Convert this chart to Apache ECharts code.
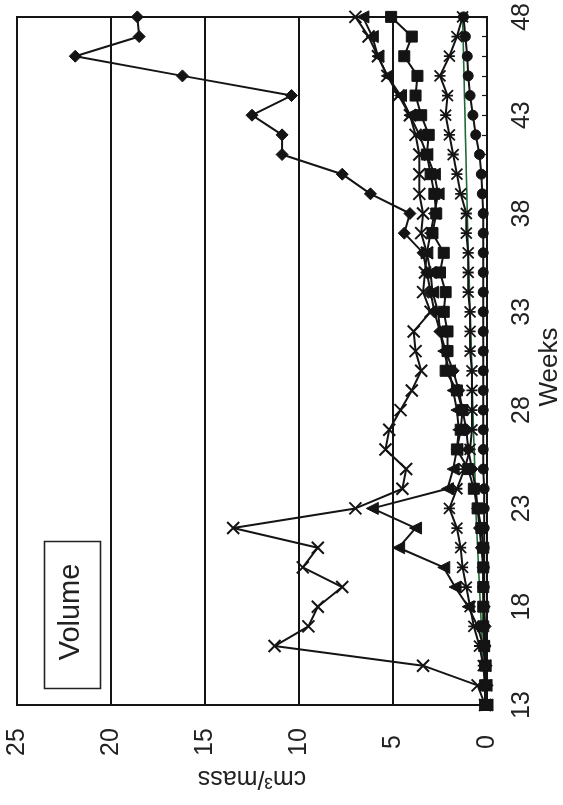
<!DOCTYPE html>
<html>
<head>
<meta charset="utf-8">
<script src="https://cdn.jsdelivr.net/npm/echarts@6/dist/echarts.min.js"></script>
<style>
html,body{margin:0;padding:0;background:#fff;}
#chart{width:563px;height:805px;}
</style>
</head>
<body>
<div id="chart"></div>
<script>
// Weeks (categories along the vertical axis)
const weeks = [13,14,15,16,17,18,19,20,21,22,23,24,25,26,27,28,29,30,31,32,33,34,35,36,37,38,39,40,41,42,43,44,45,46,47,48];
const weekTickLabels = [13,18,23,28,33,38,43,48];
const valueTickLabels = [0,5,10,15,20,25];

// Series values, cm3/mass, one per week
const diamondVals = [0,0,0.05,0.1,0.1,0.15,0.2,0.2,0.3,0.4,0.5,0.6, 0.8,1.0,1.1,1.3,1.5,1.8,2.2,2.5,2.8,3.0,3.2,3.4, 4.4,4.1,6.2,7.7,10.9,10.9,12.5,10.4,16.2,21.9,18.5,18.6];
const squareVals  = [0.1,0.1,0.1,0.15,0.2,0.2,0.2,0.2,0.2,0.3,0.5,0.7, 1.0,1.6,1.4,1.3,1.6,2.2,2.1,2.1,2.3,2.2,2.5,2.3, 2.9,2.7,2.8,3.0,3.2,3.1,3.5,3.8,3.7,4.4,4.0,5.1];
const triangleVals= [0,0.05,0.1,0.2,0.5,1.0,1.7,2.3,4.7,3.8,6.1,2.1, 1.8,1.6,1.5,1.6,1.8,2.0,2.3,2.5,2.6,2.9,3.0,3.2, 3.0,2.8,2.6,2.8,3.2,3.6,4.1,4.6,5.3,5.8,6.1,6.6];
const crossVals   = [0.1,0.5,3.4,11.3,9.5,9.0,7.7,9.8,9.0,13.5,7.0,4.5, 4.3,5.4,5.2,4.6,4.0,3.5,3.8,3.9,3.0,3.4,3.3,3.2, 3.5,3.4,3.6,3.6,3.6,3.8,4.1,4.7,5.3,5.8,6.3,7.0];
const starVals    = [0,0.1,0.2,0.4,0.7,0.9,1.1,1.3,1.4,1.6,2.0,1.6, 1.2,0.9,0.8,0.8,0.8,0.8,0.9,0.9,0.9,1.0,1.0,1.0, 1.1,1.1,1.4,1.6,1.8,2.0,2.2,2.1,2.5,2.0,1.6,1.3];
const circleVals  = [0.1,0.1,0.1,0.1,0.15,0.15,0.15,0.15,0.15,0.15,0.15,0.15, 0.2,0.2,0.2,0.2,0.2,0.2,0.2,0.2,0.2,0.2,0.2,0.2, 0.2,0.2,0.25,0.3,0.4,0.6,0.75,0.9,1.0,1.05,1.15,1.25];
const greenVals   = [0.05,0.1,0.2,0.25,0.3,0.35,0.4,0.45,0.5,0.55,0.6,0.62, 0.65,0.68,0.72,0.75,0.78,0.8,0.83,0.86,0.9,0.93,0.96,1.0, 1.02,1.05,1.07,1.1,1.12,1.15,1.17,1.2,1.22,1.25,1.27,1.3];

const INK = '#141414';
const FONT = 'Liberation Sans, Arial, sans-serif';

function pairs(vals){ return vals.map((v,i)=>[v, weeks[i]]); }

function lineSeries(name, vals, symbol, size, extra){
  return Object.assign({
    name: name,
    type: 'line',
    data: pairs(vals),
    symbol: symbol,
    symbolSize: size,
    showAllSymbol: true,
    lineStyle: {color: INK, width: 2},
    itemStyle: {color: INK, borderColor: INK, borderWidth: 1},
    emphasis: {disabled: true},
    animation: false
  }, extra || {});
}

const crossPath = 'path://M0,0L10,10M10,0L0,10';
const starPath = 'path://M0,0L10,10M10,0L0,10M0,5L10,5';

const chart = echarts.init(document.getElementById('chart'), null, {renderer: 'canvas'});
chart.setOption({
  backgroundColor: '#ffffff',
  animation: false,
  grid: {left: 17, right: 76, top: 8, bottom: 100, show: true, borderColor: INK, borderWidth: 2, backgroundColor: 'transparent'},
  xAxis: {
    type: 'value', inverse: true, min: 0, max: 25, interval: 5,
    axisLine: {show: true, lineStyle: {color: INK, width: 2}},
    axisTick: {show: false},
    splitLine: {show: true, lineStyle: {color: INK, width: 2}},
    axisLabel: {
      rotate: 90, align: 'center', verticalAlign: 'middle', margin: 37,
      fontSize: 25, color: '#222', fontFamily: FONT,
      formatter: v => valueTickLabels.includes(v) ? String(v) : ''
    },
    name: 'cm\u00b3/mass', nameLocation: 'middle', nameGap: 73, nameRotate: 180,
    nameTextStyle: {fontSize: 25, color: '#222', fontFamily: FONT, align: 'center', verticalAlign: 'middle'}
  },
  yAxis: {
    type: 'value', position: 'right', min: 13, max: 48, interval: 1,
    axisLine: {show: true, lineStyle: {color: INK, width: 2}},
    axisTick: {show: true, inside: true, length: 5, lineStyle: {color: INK, width: 1.2}},
    splitLine: {show: false},
    axisLabel: {
      rotate: 90, align: 'center', verticalAlign: 'middle', margin: 35,
      fontSize: 25, color: '#222', fontFamily: FONT,
      formatter: v => weekTickLabels.includes(v) ? String(v) : ''
    }
  },
  graphic: [
    {type: 'rect', left: 42, top: 539, shape: {width: 56, height: 147}, style: {fill: 'none', stroke: '#222', lineWidth: 1.6}},
    {type: 'text', x: 71, y: 612, rotation: Math.PI/2, style: {text: 'Volume', font: '29px ' + FONT, fill: '#222', align: 'center', verticalAlign: 'middle'}},
    {type: 'text', x: 550, y: 367, rotation: Math.PI/2, style: {text: 'Weeks', font: '26px ' + FONT, fill: '#222', align: 'center', verticalAlign: 'middle'}}
  ],
  series: [
    lineSeries('green', greenVals, 'none', 0, {lineStyle: {color: '#1f6b35', width: 1.6}, z: 2}),
    lineSeries('circle', circleVals, 'circle', 10, {z: 3}),
    lineSeries('star', starVals, starPath, 11, {itemStyle: {color: INK, borderColor: INK, borderWidth: 1.8}, z: 3}),
    lineSeries('square', squareVals, 'rect', 11, {z: 4}),
    lineSeries('triangle', triangleVals, 'triangle', 12, {symbolRotate: 90, z: 4}),
    lineSeries('cross', crossVals, crossPath, 12, {itemStyle: {color: INK, borderColor: INK, borderWidth: 2}, z: 5}),
    lineSeries('diamond', diamondVals, 'diamond', 12, {z: 6})
  ]
});
</script>
</body>
</html>
